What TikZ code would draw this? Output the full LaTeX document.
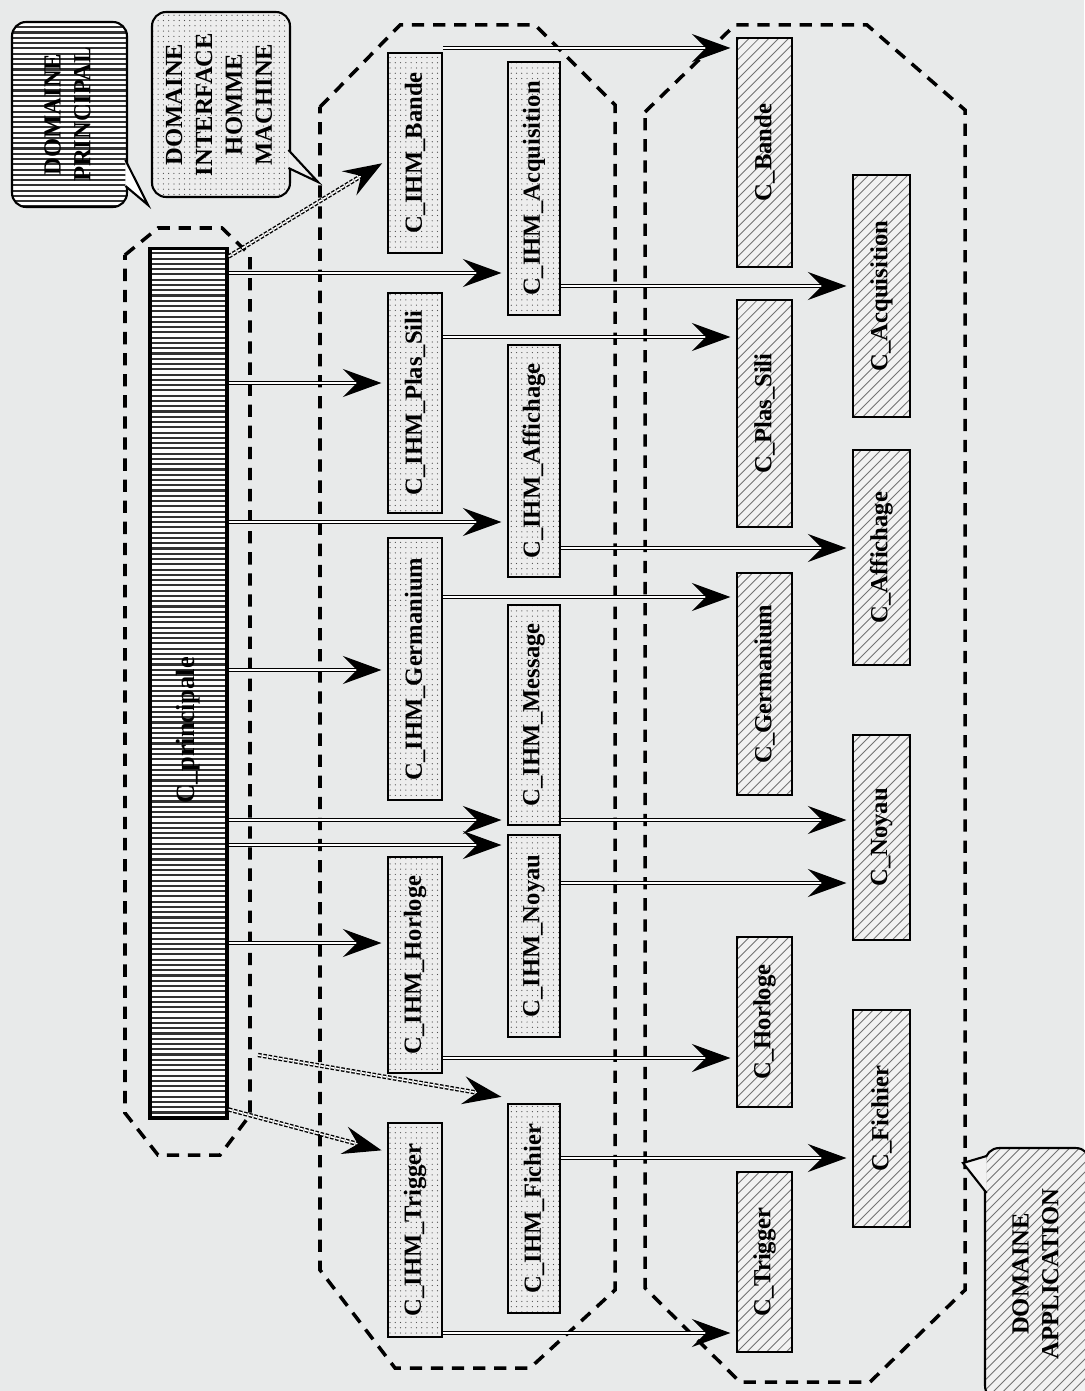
\documentclass[tikz,border=0pt]{standalone}
\usepackage{fontspec}
\setmainfont{Liberation Serif}
\usepackage{graphicx}
\usetikzlibrary{arrows.meta,patterns.meta}
\definecolor{papier}{RGB}{232,234,234}
\newcommand{\vlab}[1]{\rotatebox{90}{#1}}

\begin{document}
\begin{tikzpicture}[x=0.02cm, y=-0.02cm,
  font=\bfseries\fontsize{14}{17}\selectfont,
  >={Stealth[length=22pt,width=16pt,inset=8pt]},
  hlignes/.style={path picture={\foreach \k in {1,...,#1}
      \draw[black!80, line width=1.2pt]
        ([yshift=-\k*3pt]path picture bounding box.north west)
        -- ([yshift=-\k*3pt]path picture bounding box.north east);}},
  dlignes/.style={path picture={\foreach \k in {-30,...,8}
      \draw[black!55, line width=0.5pt]
        ([xshift=\k*5.6pt]path picture bounding box.south west) -- ++(160pt,160pt);}},
  prin/.style={rectangle, draw=black, line width=1.8pt, fill=white, hlignes=170,
               inner sep=0pt},
  ihm/.style={rectangle, draw=black, line width=1.5pt, preaction={fill=black!7},
              pattern={Dots[distance=3pt,radius=0.35pt]}, pattern color=black!70,
              inner sep=0pt},
  app/.style={rectangle, draw=black, line width=1.5pt, fill=black!5, dlignes,
              inner sep=0pt},
  dom/.style={draw=black, line width=2pt, dash pattern=on 7pt off 5pt},
  impl/.style={->, double, double distance=0.9pt, line width=0.7pt, shorten >=3pt},
  dimpl/.style={impl, line width=0.8pt, dash pattern=on 2pt off 1pt},
  bulle/.style={rectangle, rounded corners=8pt, draw=black, line width=1.2pt,
                align=center, inner sep=0pt},
  queue/.style={draw=black, line width=1.2pt},
]
\useasboundingbox (0,0) rectangle (1084,1391);
\fill[papier] (0,0) rectangle (1084,1391);

% domaines
\draw[dom] (125,255) -- (158,228) -- (222,228) -- (250,255) -- (250,1115)
  -- (220,1155) -- (158,1155) -- (125,1113) -- cycle;
\draw[dom] (320,107) -- (400,25) -- (535,25) -- (615,105) -- (615,1290)
  -- (530,1368) -- (395,1368) -- (320,1270) -- cycle;
\draw[dom] (645,112) -- (735,25) -- (867,25) -- (965,110) -- (965,1290)
  -- (870,1382) -- (740,1382) -- (645,1288) -- cycle;

% bulles
\node[bulle, fill=white, hlignes=36, minimum width=2.3cm, minimum height=3.7cm]
  (dprin) at (69.5,114.5)
  {\vlab{\begin{tabular}{c}DOMAINE\\PRINCIPAL\end{tabular}}};
\node[bulle, preaction={fill=black!7}, pattern={Dots[distance=3pt,radius=0.35pt]},
  pattern color=black!70, minimum width=2.76cm, minimum height=3.7cm] (dihm) at (221,104.5)
  {\vlab{\begin{tabular}{c}DOMAINE\\INTERFACE\\HOMME\\MACHINE\end{tabular}}};
\node[bulle, fill=black!5, dlignes, minimum width=2.1cm, minimum height=5.04cm]
  (dapp) at (1037.5,1274)
  {\vlab{\begin{tabular}{c}DOMAINE\\APPLICATION\end{tabular}}};

\coordinate (pprin) at (148,205);
\coordinate (pihm) at (318,182);
\coordinate (papp) at (963,1163);
\draw[queue, fill=white] ([xshift=-1.5pt]dprin.east |- 0,160) -- (pprin)
  -- ([xshift=-1.5pt]dprin.east |- 0,186);
\draw[queue, fill=black!7] ([xshift=-1.5pt]dihm.east |- 0,150) -- (pihm)
  -- ([xshift=-1.5pt]dihm.east |- 0,168);
\draw[queue, fill=black!5] ([xshift=1.5pt]dapp.west |- 0,1156) -- (papp)
  -- ([xshift=1.5pt]dapp.west |- 0,1193);

% classe principale
\node[prin, minimum width=1.54cm, minimum height=17.4cm] (princ) at (188.5,683)
  {\vlab{\fontsize{15}{18}\selectfont C\_principale\hspace{1.9cm}}};

% classes IHM
\node[ihm, minimum width=1.08cm, minimum height=4cm]    (ihmbande) at (415,153)  {\vlab{C\_IHM\_Bande}};
\node[ihm, minimum width=1.08cm, minimum height=4.4cm]  (ihmplas)  at (415,403)  {\vlab{C\_IHM\_Plas\_Sili}};
\node[ihm, minimum width=1.08cm, minimum height=5.24cm] (ihmgerm)  at (415,669)  {\vlab{C\_IHM\_Germanium}};
\node[ihm, minimum width=1.08cm, minimum height=4.32cm] (ihmhorl)  at (415,965)  {\vlab{C\_IHM\_Horloge}};
\node[ihm, minimum width=1.08cm, minimum height=4.28cm] (ihmtrig)  at (415,1230) {\vlab{C\_IHM\_Trigger}};

\node[ihm, minimum width=1.04cm, minimum height=5.06cm] (ihmacq)  at (534,188.5)  {\vlab{C\_IHM\_Acquisition}};
\node[ihm, minimum width=1.04cm, minimum height=4.64cm] (ihmaff)  at (534,461)    {\vlab{C\_IHM\_Affichage}};
\node[ihm, minimum width=1.04cm, minimum height=4.4cm]  (ihmmsg)  at (534,715)    {\vlab{C\_IHM\_Message}};
\node[ihm, minimum width=1.04cm, minimum height=4.04cm] (ihmnoy)  at (534,936)    {\vlab{C\_IHM\_Noyau}};
\node[ihm, minimum width=1.04cm, minimum height=4.18cm] (ihmfich) at (534,1208.5) {\vlab{C\_IHM\_Fichier}};

% classes application
\node[app, minimum width=1.1cm, minimum height=4.58cm] (bande) at (764.5,152.5) {\vlab{C\_Bande}};
\node[app, minimum width=1.1cm, minimum height=4.54cm] (plas)  at (764.5,413.5) {\vlab{C\_Plas\_Sili}};
\node[app, minimum width=1.1cm, minimum height=4.44cm] (germ)  at (764.5,684)   {\vlab{C\_Germanium}};
\node[app, minimum width=1.1cm, minimum height=3.4cm]  (horl)  at (764.5,1022)  {\vlab{C\_Horloge}};
\node[app, minimum width=1.1cm, minimum height=3.6cm]  (trig)  at (764.5,1262)  {\vlab{C\_Trigger}};

\node[app, minimum width=1.14cm, minimum height=4.84cm] (acq)  at (881.5,296)    {\vlab{C\_Acquisition}};
\node[app, minimum width=1.14cm, minimum height=4.3cm]  (aff)  at (881.5,557.5)  {\vlab{C\_Affichage}};
\node[app, minimum width=1.14cm, minimum height=4.1cm]  (noy)  at (881.5,837.5)  {\vlab{C\_Noyau}};
\node[app, minimum width=1.14cm, minimum height=4.34cm] (fich) at (881.5,1118.5) {\vlab{C\_Fichier}};

% principale -> IHM
\draw[dimpl] ([yshift=-0.2cm]princ.north east) -- ([yshift=-0.15cm]ihmbande.west);
\draw[impl] (princ.east |- 0,273) -- (ihmacq.west |- 0,273);
\draw[impl] (princ.east |- 0,383) -- (ihmplas.west |- 0,383);
\draw[impl] (princ.east |- 0,522) -- (ihmaff.west |- 0,522);
\draw[impl] (princ.east |- 0,670) -- (ihmgerm.west |- 0,670);
\draw[impl] (princ.east |- 0,820) -- (ihmmsg.west |- 0,820);
\draw[impl] (princ.east |- 0,845) -- (ihmnoy.west |- 0,845);
\draw[impl] (princ.east |- 0,943) -- (ihmhorl.west |- 0,943);
\coordinate (fsrc) at (258,1055);
\draw[dimpl] (fsrc) -- ([yshift=0.1cm]ihmfich.north west);
\draw[dimpl] ([yshift=0.2cm]princ.south east) -- ([yshift=-0.6cm]ihmtrig.north west);

% IHM -> application
\draw[impl] (ihmbande.east |- 0,48)  -- (bande.west |- 0,48);
\draw[impl] (ihmplas.east |- 0,337)  -- (plas.west |- 0,337);
\draw[impl] (ihmgerm.east |- 0,597)  -- (germ.west |- 0,597);
\draw[impl] (ihmhorl.east |- 0,1058) -- (horl.west |- 0,1058);
\draw[impl] (ihmtrig.east |- 0,1333) -- (trig.west |- 0,1333);
\draw[impl] (ihmacq.east |- 0,286)   -- (acq.west |- 0,286);
\draw[impl] (ihmaff.east |- 0,548)   -- (aff.west |- 0,548);
\draw[impl] (ihmmsg.east |- 0,820)   -- (noy.west |- 0,820);
\draw[impl] (ihmnoy.east |- 0,883)   -- (noy.west |- 0,883);
\draw[impl] (ihmfich.east |- 0,1158) -- (fich.west |- 0,1158);
\end{tikzpicture}
\end{document}
